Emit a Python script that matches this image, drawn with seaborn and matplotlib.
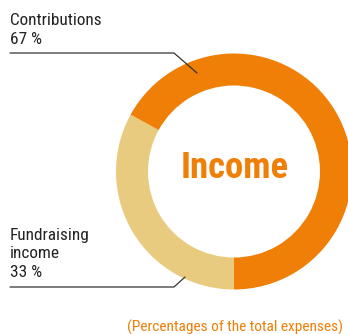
import matplotlib
matplotlib.use("Agg")
import matplotlib.pyplot as plt
from matplotlib import font_manager as fm
import seaborn as sns

categories = ["Fundraising\nincome", "Contributions"]
values = [33, 67]
pct_labels = ["33 %", "67 %"]
center_title = "Income"
footnote = "(Percentages of the total expenses)"

sns.set_theme(style="white")

entries = fm.fontManager.ttflist
names = {f.name for f in entries}
cond_fonts = [f for f in entries if ('Condensed' in f.name or 'Narrow' in f.name
              or 'ondensed' in f.fname or 'Narrow' in f.fname)]
family = None
stretch = 'normal'
for cand in ['Roboto Condensed', 'Liberation Sans Narrow', 'Open Sans Condensed', 'DejaVu Sans Condensed']:
    if cand in names:
        family = cand
        break
if family is None:
    dv = [f for f in entries if f.name == 'DejaVu Sans' and 'ondensed' in f.fname]
    if dv:
        family = 'DejaVu Sans'
        stretch = 'condensed'
    elif cond_fonts:
        family = cond_fonts[0].name
        stretch = cond_fonts[0].stretch
    else:
        family = 'DejaVu Sans'
plt.rcParams['font.family'] = [family, 'DejaVu Sans']
plt.rcParams['font.stretch'] = stretch

ORANGE = "#EF7F06"
PALE = "#E8CB7E"
colors = sns.color_palette([PALE, ORANGE])

W, H = 348, 334
fig = plt.figure(figsize=(W / 100, H / 100), dpi=100)
ax = fig.add_axes([0, 0, 1, 1])

cx, cy = 234, H - 171.5
R = 118
ax.pie(values, colors=colors, startangle=270, counterclock=False,
       radius=R, center=(cx, cy),
       wedgeprops=dict(width=32, edgecolor='none', linewidth=0))
ax.set_xlim(0, W)
ax.set_ylim(0, H)
ax.set_aspect('auto')
ax.axis('off')

def Y(y):
    return H - y

txt = "#222222"
fs = 12.4
ax.text(10, Y(25), categories[1], fontsize=fs, color=txt, ha='left', va='baseline')
ax.text(10, Y(44), pct_labels[1], fontsize=fs, color=txt, ha='left', va='baseline')
ax.plot([10, 174, 197], [Y(53), Y(53), Y(73)], color="#333333", lw=0.9)

ax.text(10, Y(240), "Fundraising", fontsize=fs, color=txt, ha='left', va='baseline')
ax.text(10, Y(258.5), "income", fontsize=fs, color=txt, ha='left', va='baseline')
ax.text(10, Y(277), pct_labels[0], fontsize=fs, color=txt, ha='left', va='baseline')
ax.plot([10, 174, 185], [Y(287), Y(287), Y(277)], color="#333333", lw=0.9)

ax.text(cx + 1, Y(178), center_title, fontsize=26.5, fontweight='bold', color=ORANGE,
        ha='center', va='baseline')
ax.text(343, Y(332), footnote, fontsize=11.1, color=ORANGE, ha='right', va='baseline')

fig.savefig("out.png", dpi=100)
